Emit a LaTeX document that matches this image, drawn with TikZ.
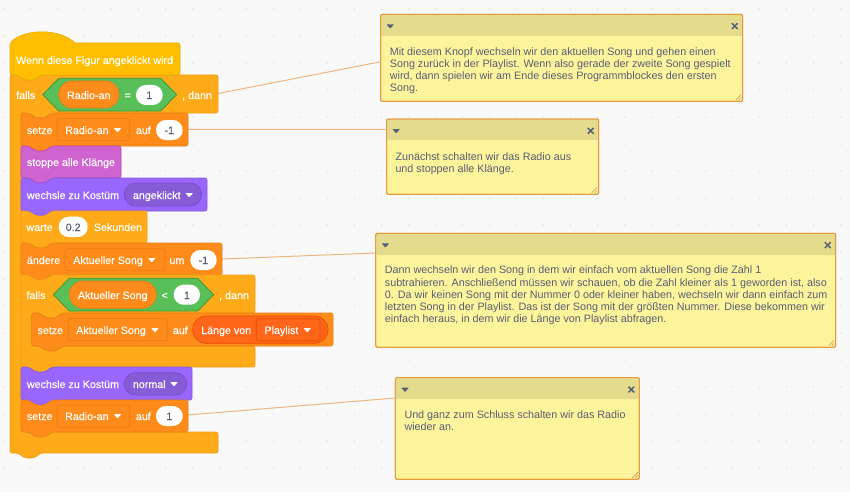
\documentclass[tikz,border=0pt]{standalone}
\usepackage{fontspec}
\setmainfont{Liberation Sans}
\newfontfamily\blockfont[FakeBold=0.25]{Liberation Sans}
\newcounter{tn}
\definecolor{bg}{HTML}{F9F9F9}
\definecolor{dotc}{HTML}{DDDDDD}
\definecolor{hatc}{HTML}{FFBF00}\definecolor{hats}{HTML}{E6AC00}
\definecolor{ctlc}{HTML}{FFAB19}\definecolor{ctls}{HTML}{EFA015}
\definecolor{varc}{HTML}{FF8C1A}\definecolor{vars}{HTML}{E67E12}
\definecolor{sndc}{HTML}{CF63CF}\definecolor{snds}{HTML}{BD42BD}
\definecolor{lkc}{HTML}{9966FF}\definecolor{lks}{HTML}{855CD6}
\definecolor{lkd}{HTML}{855CD6}\definecolor{lkds}{HTML}{774DCB}
\definecolor{opc}{HTML}{59C059}\definecolor{ops}{HTML}{389438}
\definecolor{lstc}{HTML}{FF661A}\definecolor{lsts}{HTML}{E64D00}
\definecolor{notec}{HTML}{FEF49C}\definecolor{noteh}{HTML}{E4DB8C}\definecolor{notes}{HTML}{E69B3D}
\definecolor{linec}{HTML}{EDB67F}
\definecolor{inkc}{HTML}{575E75}
\tikzset{
  lbltext/.style={inner sep=0pt,anchor=base west,font=\blockfont\fontsize{10.7}{12}\selectfont},
  clbltext/.style={inner sep=0pt,anchor=base,font=\blockfont\fontsize{10.7}{12}\selectfont},
  notetext/.style={inner sep=0pt,anchor=north west,align=left,text=inkc,font=\fontsize{10.75}{12}\selectfont},
  notebox/.style={inner sep=0pt,outer sep=0pt,draw=notes,fill=notec,line width=1pt,rounded corners=2pt},
  connector/.style={draw=linec,line width=1pt},
  wire/.style={line width=0.6pt,rounded corners=2pt,line join=round}
}
% text helpers: x, y of the baseline
\newcommand\lbl[4][white]{\stepcounter{tn}\node[lbltext,text=#1] (t\arabic{tn}) at (#2,#3) {#4};}
\newcommand\clbl[4][white]{\stepcounter{tn}\node[clbltext,text=#1] (t\arabic{tn}) at (#2,#3) {#4};}
% stack block: x1 y1 x2 y2 fill stroke
\newcommand\blk[6]{\draw[wire,fill=#5,draw=#6]
  (#1,#4) -- (#1,#2) -- ({#1+7.5},#2) -- ({#1+15},{#2+5}) -- ({#1+24},{#2+5}) -- ({#1+31},#2) -- (#3,#2)
  -- (#3,#4) -- ({#1+31},#4) -- ({#1+24},{#4+5}) -- ({#1+15},{#4+5}) -- ({#1+7.5},#4) -- cycle;}
% c block: x1 y1 x2 y2(top bar end) y3(bar top) y4(bottom) arm
\newcommand\cblk[7]{\draw[wire,fill=ctlc,draw=ctls]
  (#1,#6) -- (#1,#2) -- ({#1+7.5},#2) -- ({#1+15},{#2+5}) -- ({#1+24},{#2+5}) -- ({#1+31},#2) -- (#3,#2)
  -- (#3,#4) -- ({#7+31},#4) -- ({#7+24},{#4+5}) -- ({#7+15},{#4+5}) -- ({#7+7.5},#4) -- (#7,#4)
  -- (#7,#5) -- (#3,#5) -- (#3,#6) -- ({#1+31},#6) -- ({#1+24},{#6+5}) -- ({#1+15},{#6+5}) -- ({#1+7.5},#6) -- cycle;}
% rounded input: x1 y1 x2 y2 radius fill stroke
\newcommand\pill[7]{\draw[fill=#6,draw=#7,line width=0.7pt,rounded corners=#5pt] (#1,#2) rectangle (#3,#4);}
\newcommand\wpill[4]{\fill[white,rounded corners=9.9pt] (#1,#2) rectangle (#3,#4);}
\newcommand\hexa[4]{\draw[fill=opc,draw=ops,line width=0.7pt,line join=round]
  (#1,{(#3+#4)/2}) -- ({#1+16},#3) -- ({#2-16},#3) -- (#2,{(#3+#4)/2}) -- ({#2-16},#4) -- ({#1+16},#4) -- cycle;}
\newcommand\tri[3][white]{\fill[#1,rounded corners=0.6pt] ({#2-3.8},{#3-2}) -- ({#2+3.8},{#3-2}) -- ({#2},{#3+2.4}) -- cycle;}
% note: name x1 y1 x2 y2 header-bottom
\newcommand\notecard[6]{
  \node[notebox,minimum width={#4-#2},minimum height={#5-#3}] (#1) at ({(#2+#4)/2},{(#3+#5)/2}) {};
  \fill[noteh,rounded corners=2pt] (#2,#6) -- (#2,#3) -- (#4,#3) -- (#4,#6) -- cycle;
  \draw[notes,line width=1pt,rounded corners=2pt] (#2,#3) rectangle (#4,#5);
  \tri[inkc]{(#2+9.7)}{(#3+12)}
  \draw[inkc,line width=1.5pt] ({#4-10.9},{#3+8.9}) -- ({#4-5.1},{#3+14.7}) ({#4-5.1},{#3+8.9}) -- ({#4-10.9},{#3+14.7});
  \draw[notes!70!gray,line width=0.6pt] ({#4-7},{#5-1.5}) -- ({#4-1.5},{#5-7}) ({#4-4},{#5-1.5}) -- ({#4-1.5},{#5-4});
}
\begin{document}
\begin{tikzpicture}[x=1pt,y=-1pt]
\useasboundingbox (0,0) rectangle (850,492);
\fill[bg] (0,0) rectangle (850,492);
\foreach \i in {0,...,31} \foreach \j in {0,...,17} \fill[dotc] ({3.7+27*\i},{9+27*\j}) circle (0.75);

% anchors of the connectors on the blocks
\coordinate (c1) at (218,93.5);
\coordinate (c2) at (188,129.5);
\coordinate (c3) at (222,259);
\coordinate (c4) at (188,415);

% notes
\notecard{n1}{380.5}{14.3}{742.7}{101.5}{36}
\notecard{n2}{386.5}{119}{598.7}{194.3}{140}
\notecard{n3}{375.7}{233.3}{835.7}{347.3}{255}
\notecard{n4}{395.3}{377.7}{639.3}{479.3}{399}

\draw[connector] (c1) -- ([yshift=-47.5pt]n1.north west);
\draw[connector] (c2) -- ([yshift=-10.4pt]n2.north west);
\draw[connector] (c3) -- ([yshift=-19.7pt]n3.north west);
\draw[connector] (c4) -- ([yshift=-20.3pt]n4.north west);

\node[notetext] (x1) at (389.7,46) {\rule{0pt}{9pt}Mit diesem Knopf wechseln wir den aktuellen Song und gehen einen\\Song zurück in der Playlist. Wenn also gerade der zweite Song gespielt\\wird, dann spielen wir am Ende dieses Programmblockes den ersten\\Song.};
\node[notetext] (x2) at (395.3,151) {\rule{0pt}{9pt}Zunächst schalten wir das Radio aus\\und stoppen alle Klänge.};
\node[notetext] (x3) at (384.7,264) {\rule{0pt}{9pt}Dann wechseln wir den Song in dem wir einfach vom aktuellen Song die Zahl 1\\[1pt]subtrahieren. Anschließend müssen wir schauen, ob die Zahl kleiner als 1 geworden ist, also\\0. Da wir keinen Song mit der Nummer 0 oder kleiner haben, wechseln wir dann einfach zum\\letzten Song in der Playlist. Das ist der Song mit der größten Nummer. Diese bekommen wir\\einfach heraus, in dem wir die Länge von Playlist abfragen.};
\node[notetext] (x4) at (404.3,409) {\rule{0pt}{9pt}Und ganz zum Schluss schalten wir das Radio\\wieder an.};

% outer c block
\cblk{10}{75}{218}{113}{432}{453}{21}
% hat
\draw[wire,fill=hatc,draw=hats] (10,75) -- (10,43) [sharp corners] .. controls (25,28.3) and (60,28.3) .. (75,43) [rounded corners=2pt] -- (180,43) -- (180,75) -- (41,75) -- (34,80) -- (25,80) -- (17.5,75) -- cycle;
\lbl{16}{64}{Wenn diese Figur angeklickt wird}

\lbl{16}{99}{falls}
\hexa{42.7}{176.7}{78.3}{111}
\pill{58.7}{81}{119}{108}{13.4}{varc}{vars}
\clbl{88.8}{99}{Radio-an}
\clbl{127.7}{99}{=}
\wpill{136}{85}{162.7}{105}
\clbl[inkc]{149.3}{99}{1}
\lbl{182}{99}{, dann}

% setze Radio-an -1
\blk{21}{113}{188}{146}{varc}{vars}
\lbl{26.7}{134}{setze}
\pill{57.3}{118.7}{129.7}{140.7}{2}{varc}{vars}
\lbl{65}{134}{Radio-an}
\tri{117.5}{130}
\lbl{135.7}{134}{auf}
\wpill{156}{120}{182.7}{140}
\clbl[inkc]{169.3}{134}{-1}

% stoppe
\blk{21}{146}{121}{178}{sndc}{snds}
\lbl{26.7}{166}{stoppe alle Klänge}

% wechsle angeklickt
\blk{21}{178}{207}{211}{lkc}{lks}
\lbl{26.7}{199}{wechsle zu Kostüm}
\pill{124.3}{183}{201.7}{206}{11.4}{lkd}{lkds}
\lbl{132.7}{199}{angeklickt}
\tri{189.3}{195}

% warte
\blk{21}{211}{147}{243}{ctlc}{ctls}
\lbl{26.3}{231}{warte}
\wpill{58.7}{216.7}{87.7}{237}
\clbl[inkc]{73.2}{231}{0.2}
\lbl{93.7}{231}{Sekunden}

% aendere
\blk{21}{243}{222}{275}{varc}{vars}
\lbl{26.7}{264}{ändere}
\pill{65.3}{248.7}{164.7}{270.7}{2}{varc}{vars}
\lbl{73}{264}{Aktueller Song}
\tri{151.7}{260}
\lbl{169.3}{264}{um}
\wpill{190.3}{250}{216.7}{270}
\clbl[inkc]{203.5}{264}{-1}

% inner c block
\cblk{21}{275}{255}{313}{346}{367}{31.7}
\lbl{26.3}{299}{falls}
\hexa{53.3}{213.7}{278.3}{311}
\pill{69.3}{281}{156.3}{308.3}{13.5}{varc}{vars}
\clbl{112.7}{299}{Aktueller Song}
\clbl{164.7}{299}{<}
\wpill{173.7}{284.7}{200}{304.7}
\clbl[inkc]{187}{299}{1}
\lbl{219}{299}{, dann}

% inner setze
\blk{31.7}{313}{333}{346}{varc}{vars}
\lbl{37.3}{334}{setze}
\pill{68.3}{318.7}{167.3}{340.7}{2}{varc}{vars}
\lbl{76}{334}{Aktueller Song}
\tri{155}{330}
\lbl{172.7}{334}{auf}
\pill{192.7}{316}{328}{343.3}{13.5}{lstc}{lsts}
\lbl{201}{334}{Länge von}
\pill{256.3}{318.7}{320}{340.7}{2}{lstc}{lsts}
\lbl{264.3}{334}{Playlist}
\tri{307.3}{330}

% wechsle normal
\blk{21}{367}{192}{400}{lkc}{lks}
\lbl{26.7}{388}{wechsle zu Kostüm}
\pill{124.3}{372.7}{186.7}{395}{11}{lkd}{lkds}
\lbl{132.7}{388}{normal}
\tri{174}{384}

% setze 1
\blk{21}{400}{188}{432}{varc}{vars}
\lbl{26.7}{420}{setze}
\pill{57.3}{405.3}{129.7}{427.3}{2}{varc}{vars}
\lbl{65}{420}{Radio-an}
\tri{117.5}{416}
\lbl{135.7}{420}{auf}
\wpill{156}{406}{182.7}{426}
\clbl[inkc]{169.3}{420}{1}
\end{tikzpicture}
\end{document}
